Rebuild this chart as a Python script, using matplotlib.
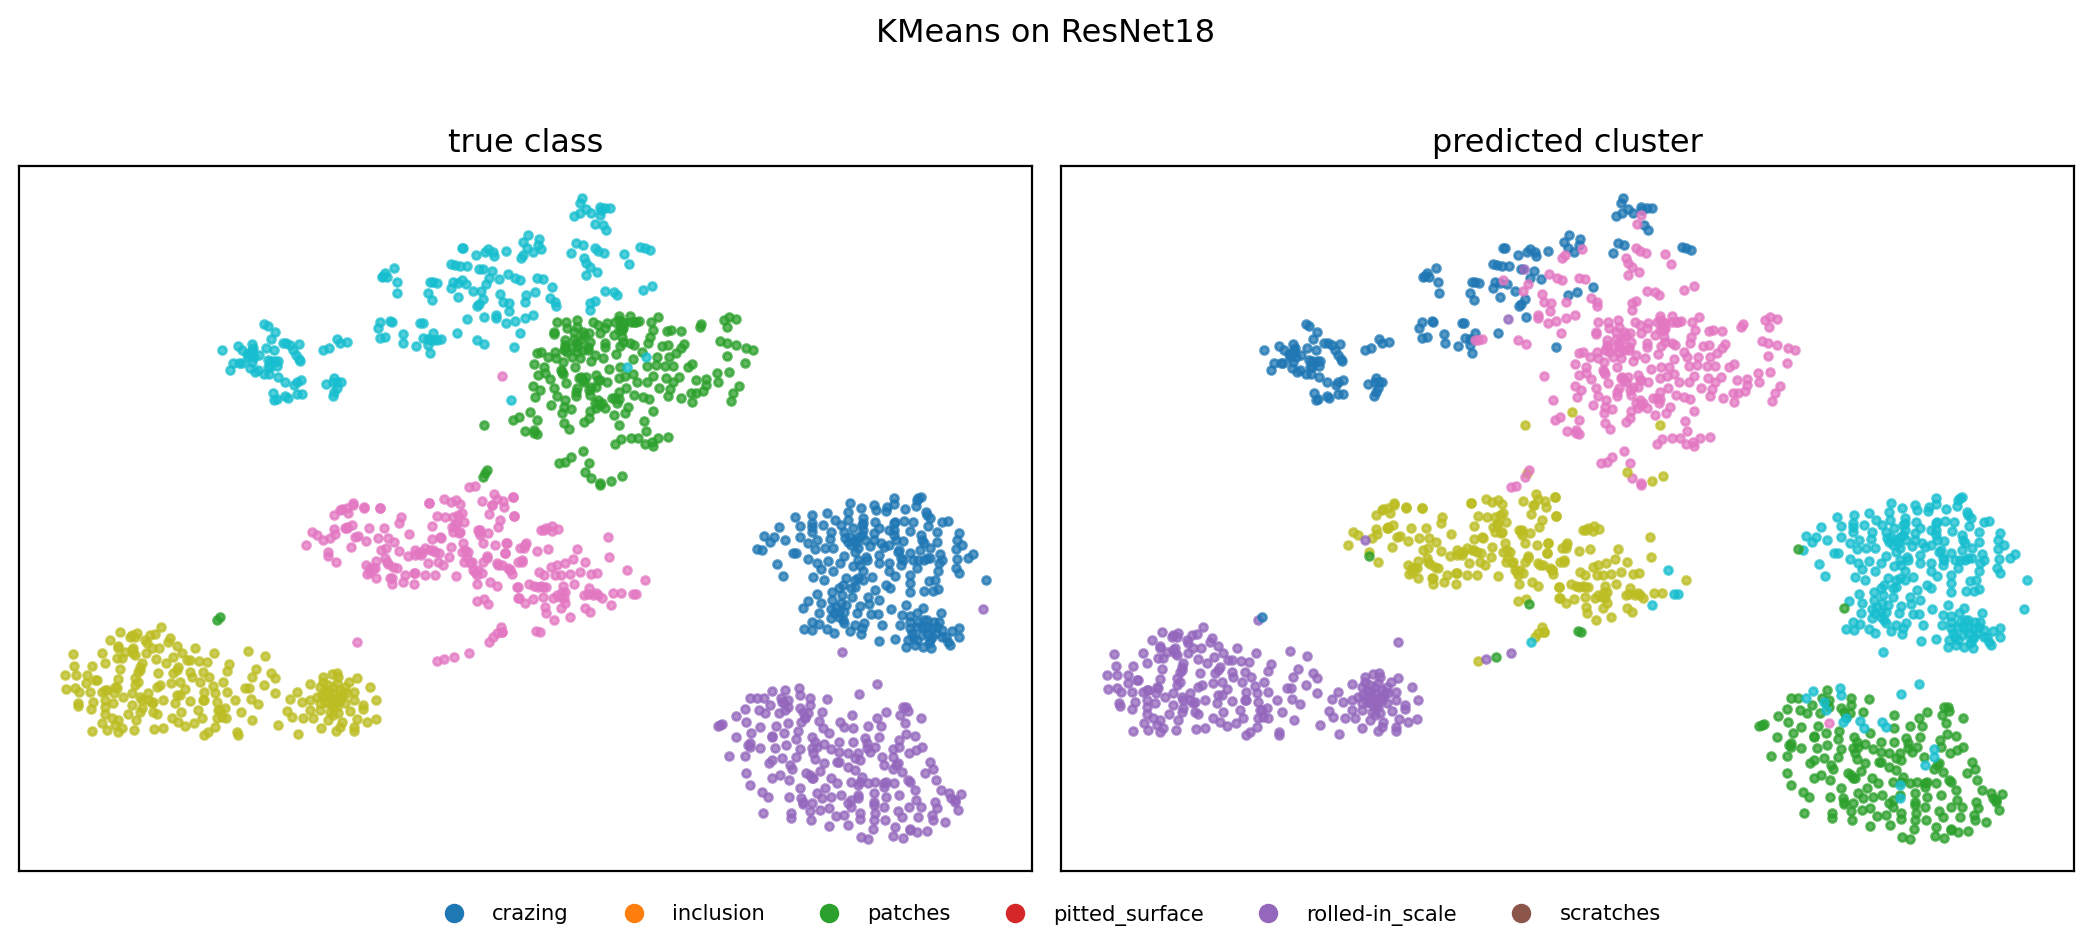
import matplotlib
matplotlib.use('Agg')
import matplotlib.pyplot as plt
from matplotlib.lines import Line2D

# tab10 colour index per cluster
BLUE, GREEN, PURPLE, PINK, OLIVE, CYAN = 'tab:blue', 'tab:green', 'tab:purple', 'tab:pink', 'tab:olive', 'tab:cyan'

class_names = ['crazing', 'inclusion', 'patches', 'pitted_surface', 'rolled-in_scale', 'scratches']
legend_colors = ['tab:blue', 'tab:orange', 'tab:green', 'tab:red', 'tab:purple', 'tab:brown']

# points, each list in its own reading frame (see FRAMES)
cyan_a = [(666,600),(689,660),(698,638),(713,588),(727,600),(742,612),(755,582),(757,600),(762,620),(778,615),(718,640),(725,640),(750,655),(765,665),(775,660),(755,635),(797,593),(813,568),(823,601),(793,522),(803,527),(826,546),(848,580),(858,578),(870,585),(896,582),(880,600),(888,615),(900,633),(897,628),(803,630),(812,632),(835,632),(825,632),(832,647),(805,650),(808,672),(792,672),(833,682),(855,695),(882,706),(890,695),(904,689),(818,728),(822,750),(830,748),(855,738),(863,743),(890,733),(905,732),(978,702),(1002,685),(1000,695),(1022,696),(1010,715),(1003,725),(998,739),(1012,697),(970,599),(988,595),(1012,567),(1020,578),(1042,577),
          (1133,533),(1140,516),(1170,513),(1175,517),(1140,565),(1155,560),(1208,553),(1210,580),(1248,587),(1260,519),(1268,519),(1270,565),(1285,567),(1299,548),(1285,585),(1291,608),(1370,549),(1453,502),(1432,468),(1437,462),(1450,448),(1374,440),(1420,423),(1466,384),(1497,386),(1477,363),(1437,357),(1354,342),(1365,346),(1381,349),(1402,349),(1353,413),(1360,397),(1397,401),(1375,398),(1285,430),(1296,450),(1290,396),(1300,397),(1312,400),(1145,381),(1155,370),(1162,380),(1183,354),(1190,397),(1191,430),(1390,293),(1428,316),(1455,306),(1465,298),(1480,305),(1483,318),
          (750,610),(745,620),(755,610),(760,595),(810,650),(1290,567),(1150,378),(1385,295)]
cyan_b = [(237,145),(232,158),(250,178),(233,190),(215,198),(265,188),(290,170),(292,180),(305,175),(320,173),(298,225),(309,241),(66,275),(80,255),(113,268),(110,285),(95,305),(78,295),(18,303),(222,280),(240,285),(207,310),(408,290),(420,295),(435,300),(150,410),(102,425),(76,435),(42,590)]
cyan_pink_a = [(1300,570),(1310,570),(1322,567),(1385,390),(1443,422),(1458,402),(1430,569),(1453,583),(1488,495),(1488,505)]
cyan_pink_b = [(290,195),(277,222),(68,315),(60,325),(118,298),(275,295),(285,303),(303,310),(245,325),(250,340),(262,352),(250,375),(282,366),(360,313),(375,343),(442,408),(415,420),(305,422),(330,427),(340,435),(262,480),(262,458),(275,452),(108,383),(125,387),(23,372),(45,385),(58,390),(0,433),(8,457),(27,458),(25,484),(72,457),(145,445),(160,457),(162,467),(18,520),(43,512),(72,503),(97,495),(57,549),(370,651),(423,622),(33,750)]
cyan_purple_a = [(1400,506),(1448,358)]

green_b = [(165,517),(193,517),(195,535),(158,545),(158,553),(223,510),(225,530),(270,515),(285,525),(310,520),(335,517),(345,498),(353,515),(378,498),(405,513),(390,515),(458,500),(438,515),(445,540),(435,560),(430,578),(485,542),(497,540),(525,543),(585,522),(580,530),(650,510),(665,500),(685,507),(660,532),(640,573),(658,580),(685,585),(715,593),(736,599),(658,619),(712,638),(665,667),(630,670),(633,695),(693,708),(678,728),(670,752),(558,642),(545,652),(598,688),(568,690),(597,705),(590,722),(570,728),(555,728),(527,745),(558,755),(520,680),(483,685),(503,695),(495,717),(462,713),(488,738),
           (533,583),(525,595),(510,610),(490,620),(455,620),(470,587),(487,586),(480,647),(503,648),(452,645),(428,648),(413,606),(385,628),(388,585),(348,587),(337,613),(305,580),(300,625),(265,633),(275,615),(255,590),(190,570),(190,595),(195,605),(225,605),(232,625),(208,620),(160,605),(163,625),(140,622),(108,608),(120,607),(98,641),(182,637),(128,650),(130,668),(110,675),(145,687),(178,660),(183,673),(192,698),(218,652),(317,658),(348,652),(443,677),(427,697),(398,697),(385,672),(363,678),(345,685),(367,715),(345,725),(390,735),(415,740),(432,747),(340,760),(372,770),(362,790),(330,795),(417,813),(423,842),(443,782),
           (235,682),(250,680),(280,675),(290,690),(310,695),(280,712),(258,720),(260,735),(225,715),(220,738),(158,715),(165,738),(97,708),(115,720),(102,740),(148,765),(188,750),(185,770),(205,778),(180,790),(55,802),(38,810),(108,810),(73,842),(100,840),(108,852),(185,820),(200,838),(245,815),(258,805),(260,782),(285,750),(280,775),(305,775),(325,745),(345,748),
           (335,883),(350,868),(380,863),(402,865),(420,882),(443,888),(440,875),(460,865),(488,860),(240,903),(205,922),(190,935),(172,938),(258,940),(263,985),(290,1000),(290,1005),
           (240,545),(258,550),(290,550),(305,535),(330,555),(358,535),(355,560),(358,575),(378,580),(215,545),(215,567),(235,570),(260,575),(305,590),(240,600),
           (230,685),(245,695),(240,690),(290,765),(295,760),(345,510),(350,530),(360,520),(190,585),(225,590),(180,665),(185,600),(245,555),(255,600),(335,745),(100,850),(285,690),(265,710),(275,760),(220,725),(225,575),(210,590),(355,540),(345,540),(380,515),(395,515)]
green_olive_b = [(345,825),(247,965),(322,992),(353,977),(88,785)]
green_olive_a = [(1451,825),(1455,970)]
green_pink_a = [(1450,980),(1462,960)]
green_purple_c = [(650,360)]
green_blue_c = [(660,352)]

pink_a = [(1058,1060),(1092,1072),(1140,1075),(1288,1060),(1332,1048),(1352,1055),(1368,1050),(1380,1062),(1445,1052),(1482,1032),(1490,1048),(1510,1052),(1540,1040),(1475,1065)]
pink_pink_a = [(1408,1012),(1424,1007),(1507,679)]
pink_c = [(1020,30),(1003,45),(1045,40),(1058,15),(1092,23),(1140,25),(1288,10),(1035,85),(1055,75),(1003,88),(1005,103),(918,134),(935,97),(950,105),(990,115),(1052,140),(1065,110),(1075,107),(1098,122),(1107,83),(1152,85),(1133,115),(1198,70),(1202,50),(1228,103),(983,155),(1008,187),(1143,150),(1158,145),(1163,113),(1183,125),(1197,153),(1225,167),(1245,150),(1262,165),(1275,145),(1298,150),(1318,158),(1296,118),(1323,115),(1296,77),(1310,47),(1335,52),(1360,50),(1385,40),(1355,80),(1392,67),(1360,95),(1378,100),(1352,142),(1348,172),(1390,130),(1385,155),(1405,155),(1393,185),(1415,185),(1440,90),(1465,98),(1433,90),(1500,60),(1493,80),(1467,42),(1513,20),(1477,15),(1543,47),(1450,128),(1485,135),(1520,130),(1515,158),(1460,168),(1450,185),(1495,195),(1530,210),(1555,185),(1560,143),(1098,195),(1128,182),(1155,175),(1165,192),(1190,205),(1110,215),(1128,233),(1102,222),(1170,233),(1175,252),(1208,245),(1215,225),(1242,218),(1242,252),(1275,225),(1305,225),(1368,228),(1283,188),(1315,185),(1330,195),(1430,225),(1420,210),(1445,220),(1432,253),(1470,245),(1490,258),(1535,222),(1552,260),(1553,293),(1430,303),(1453,297),(1310,483),(1480,410),(1490,400),(1502,380),(1507,395),
          (1025,28),(1040,85),(1110,205),(1118,205),(1125,205),(1160,185),(1180,200),(1175,235),(1255,160),(1290,150),(1305,155),(1365,75),(1380,95),(1395,150),(1400,175),(1410,190),(1435,210),(1425,215),(1440,105),(1437,95),(1460,175),(1490,190),(1505,195),(1525,205),(1245,220),(1370,70),(1375,45),(1040,25),(1040,80),(1320,110),(1245,165),(1265,155)]
pink_purple_c = [(970,120),(1070,425),(1333,478),(1407,460)]
pink_green_c = [(983,167),(1463,312),(1363,470)]
pink_cyan_c = [(1468,425)]
pink_d = [(38,50),(42,107),(120,150),(135,145),(152,138),(168,146),(150,152),(75,190),(70,205),(108,213),(140,208),(223,208),(315,172),(317,231),(247,245),(212,238),(65,245),(188,250),(165,255),(148,262),(232,275),(112,277),(127,285),(160,285),(178,285),(203,283),(265,283),(283,280),(421,300),(215,313),(85,313),(110,322),(135,320),(52,320),(183,318),(190,335),(55,355),(72,368),(95,358),(125,352),(155,355),(175,350),(190,368),(130,380),(133,400),(178,385),(245,345),(258,325),(285,345),(295,355),(327,338),(350,340),(248,383),(262,395),(203,412),(158,420),(7,455),(30,270),(18,190),(15,218),
          (100,318),(120,318),(125,322),(165,345),(180,335),(185,355),(255,342),(270,345),(280,340),(65,240),(72,195),(128,150)]
pink_cyan_d = [(368,270),(385,342),(395,342),(322,375)]
pink_green_d = [(105,453),(115,457)]

blue_d = [(760,210),(768,167),(785,185),(797,170),(811,141),(828,181),(858,112),(870,137),(870,170),(850,218),(860,218),(805,252),(823,288),(895,188),(895,237),(920,250),(932,268),(922,180),(915,208),(943,205),(968,204),(952,242),(968,273),(910,291),(940,301),(907,105),(905,128),(905,155),(938,136),(950,98),(972,120),(960,155),(958,178),(990,135),(1015,68),(1010,95),(1012,120),(1025,145),(1003,175),(1035,190),(1030,215),(1000,228),(987,248),(1025,257),(1048,85),(1055,115),(1055,150),(1050,165),(1085,75),(1092,90),(1088,125),(1100,145),(1085,180),(1075,198),(1105,190),(1100,225),(1063,232),(1100,250),(1055,272),(1122,92),(1145,55),(1145,72),(1176,86),(1148,125),(1130,150),(1145,165),(1172,122),(1198,125),(1192,152),(1170,182),(1155,215),(1130,250),(1165,255),(1190,218),(1215,55),(1222,52),(1207,78),(1237,95),(1240,105),(1248,115),(1243,138),(1222,165),(1230,188),(1220,210),(1250,205),(1215,240),(1240,235),(1278,222),(1285,240),(1270,155),(1270,185),(1285,125),(1300,122),(1332,158),(1327,180),(1343,195),(1325,207),(1328,238),(1360,235),(1375,222),(1323,265),(1332,278),(1272,272),(1275,250),(1210,265),(1190,285),(1190,310),(1190,335),(1245,302),(1262,300),(1232,333),(1257,332),(1272,328),(1130,272),(1148,288),(1120,315),(1132,325),(1080,292),(1055,300),(1030,300),(1005,295),(995,315),(1030,320),(1090,330),(985,325),(965,335),(1022,350),(1070,350),(1100,360),(922,343),(893,363),(932,368),(965,360),(993,345),(1005,375),(1045,378),(1072,372),(1135,388),(1180,376),(1228,384),(1280,400),(1167,405),(1190,408),(1212,398),(927,400),(960,388),(985,395),(1037,400),(1078,403),(1097,402),(960,415),(1000,430),(905,425),(925,433),(883,446),(907,450),(950,446),(970,458),(1015,453),(1030,435),(1058,430),(1050,445),(1047,462),(1108,435),(1163,436),(1190,425),(1210,440),(1230,420),(1260,425),(1102,483),(1146,477),(1185,480),(1180,500),(1205,495),(1228,502),(1253,503),(1240,460),(1265,460),(1225,465),(1250,480),(1285,450),(1312,452),(1333,445),(1332,472),(1300,485),(1307,495),(1285,470),(1190,445),(1200,470),(1411,301),
          (1015,170),(1030,180),(1020,195),(1040,205),(1050,135),(1055,130),(1060,180),(1040,170),(1000,155),(1010,185),(905,140),(1145,150),(1150,180),(1160,210),(1170,240),(1115,200),(1130,195),(1085,160),(1230,240),(1200,240),(1250,235),(1225,180),(1040,295),(1020,325),(975,380),(990,370),(985,410),(995,420),(1000,395),(970,400),(1225,440),(1240,445),(1255,445),(1270,440),(1215,425),(1255,470),(1245,490),(1210,480),(1275,425),(1295,470),(1240,420),(1195,460),(1145,130),(1125,80),(1210,60),(1165,235),(1065,240),(1045,255),(1040,240)]
blue_green_d = [(745,207),(880,383)]

purple_d = [(632,738),(645,733),(686,708),(685,770),(666,828),(712,827),(720,795),(725,790),(714,878),(725,915),(712,688),(715,725),(725,655),(745,655),(752,690),(770,698),(785,675),(828,630),(900,655),(950,658),(835,660),(810,700),(870,685),(900,675),(895,700),(935,695),(802,737),(755,740),(730,760),(790,768),(825,760),(865,752),(860,778),(907,770),(955,758),(1023,705),(1025,745),(1070,738),(1095,715),(1120,697),(1105,738),(1170,682),(1185,692),(1163,705),(1224,714),(1175,730),(1178,762),(1205,767),(1158,780),(1100,772),(1060,775),(1025,785),(985,787),(940,792),(920,800),(962,808),(755,803),(800,805),(830,795),(870,807),(910,820),(1065,805),(1090,800),(1160,800),(1225,800),(1208,810),(1187,820),(780,848),(790,840),(820,835),(842,855),(848,868),(860,830),(915,838),(940,848),(928,872),(985,815),(1040,820),(980,845),(1010,860),(1045,840),(1030,870),(1110,830),(1140,868),(1155,850),(1167,875),(1250,845),(1258,868),(1235,880),(790,895),(812,885),(838,900),(890,880),(905,893),(960,893),(978,908),(1050,890),(870,925),(920,938),(945,925),(962,950),(990,945),(1020,905),(1070,910),(1115,910),(1145,910),(1185,900),(1205,930),(1265,900),(1280,930),(1305,940),(1338,943),(760,937),(778,950),(838,950),(875,955),(905,970),(880,972),(935,955),(1010,970),(1085,940),(1120,950),(1160,945),(1085,975),(1115,980),(1208,960),(1263,965),(1320,960),(1330,990),(1268,985),(763,998),(845,998),(845,1015),(900,993),(903,1020),(930,990),(955,985),(975,1008),(1000,1005),(1020,980),(1045,1000),(1045,1018),(1088,1000),(1085,1020),(1118,1020),(1155,992),(1167,1010),(1188,982),(1222,980),(1215,1010),(1255,1005),(1258,1020),(1292,1025),(955,1037),(1012,1035),(1083,1047),(1147,1042),(1190,1048),(1210,1055),(1240,1052),(1048,1072),(1070,1077),(1142,1068),(1170,1073),
            (825,670),(815,655),(835,680),(885,710),(880,695),(905,805),(915,785),(1065,790),(1075,815),(985,845),(1010,820),(1045,905),(1115,920),(1040,945),(1085,965),(1320,965),(1310,955),(1020,960),(1150,855),(1190,905),(1190,1050),(900,885),(910,895),(725,800),(790,770),(1030,835),(1090,905),(1120,905),(640,735),(880,965),(1180,680)]
purple_cyan_d = [(789,632),(1095,613),(1043,643),(868,625),(870,645),(767,655),(820,665),(827,690),(885,715),(875,725),(925,722),(938,745),(988,725),(1000,742),(1140,808),(1140,830),(1115,855),(1040,915),(1040,955),(1402,388),(993,515)]
purple_pink_d = [(835,730)]

olive_c = [(218,463),(222,497),(195,525),(227,525),(260,525),(198,566),(225,565),(237,575),(233,610),(235,618),(275,497),(305,460),(315,488),(350,475),(365,475),(330,420),(360,395),(355,437),(375,455),(395,405),(410,400),(435,420),(450,405),(465,403),(483,380),(510,413),(505,425),(530,437),(478,443),(455,445),(438,460),(400,460),(468,478),(425,490),(420,510),(360,507),(355,537),(345,560),(290,540),(258,550),(270,575),(315,570),(305,575),(343,580),(370,590),(395,580),(405,555),(415,545),(280,607),(272,628),(315,600),(340,608),(315,620),(315,642),(335,655),(355,660),(307,670),(320,690),(345,675),(365,685),(355,697),(275,692),(383,643),(395,615),(425,600),(445,580),(470,560),(475,520),(497,490),(518,470),(545,460),(585,443),(570,480),(597,483),(622,487),(642,460),(530,510),(520,520),(570,515),(610,515),(628,530),(600,545),(640,557),(540,545),(513,550),(555,567),(530,585),(525,610),(490,600),(455,610),(460,635),(470,642),(425,625),(420,635),(408,660),(403,690),(462,687),(490,685),(515,655),(535,665),(543,635),(570,602),(595,630),(605,655),(582,670),(555,678),(612,575),(612,600),(650,605),(645,580),(680,577),(668,547),(706,600),(660,630),(675,625),(650,655),(678,655),(645,680),(612,705),(625,697),(712,695),(713,705),(722,635),(757,660),(775,612),(752,597),(735,565),(748,565),(680,512),(688,492),(745,452),(795,467),(768,507),(755,530),(792,555),(825,580),(813,518),(825,535),(870,598),(862,633),(875,652),(835,675),(893,703),(890,575),(905,605),(910,655),(940,655),(930,552),(962,683),(970,530),(995,523),(1012,520),(1048,545),(1070,535),(1110,562),(1063,575),(1128,600),(1062,600),(1090,615),(1090,628),(1050,632),(1127,657),(1100,665),(1072,657),(1025,665),(1020,682),(1008,692),(1063,680),(1063,692),(960,560),(985,555),(1010,550),(1035,560),(950,590),(975,590),(1000,580),(1025,590),(930,600),(960,630),(985,610),(1010,620),(1035,610),(930,630),(985,660),(1000,645),(975,570),(1005,600),(960,610),(990,590),(1020,570),(1040,580),
           (985,575),(995,600),(1015,590),(1005,610),(975,605),(1000,560),(965,585),(1020,600),(1000,625),(990,635),(1015,640),(970,545),(1015,530),(1030,575),(395,450),(405,465),(400,445),(355,445),(285,540),(420,500),(415,515),(420,590),(445,600),(560,480),(575,530),(535,500),(540,585),(390,410),(405,410),(440,430),(460,605),(350,565),(320,570),(405,535),(480,555),(610,600),(655,630),(665,650)]

# reading frames: x origin, y origin, x scale, y scale
FRAMES = {'a': (0, 150, 3.0, 3.0), 'b': (500, 150, 2.904, 3.0),
          'c': (0, 500, 3.0, 3.0), 'd': (500, 480, 2.904, 3.0)}

# (points, frame, true class colour, predicted cluster colour)
GROUPS = [
    (cyan_a, 'a', CYAN, BLUE), (cyan_b, 'b', CYAN, BLUE),
    (green_b, 'b', GREEN, PINK),
    (pink_a, 'a', PINK, OLIVE), (pink_c, 'c', PINK, OLIVE), (pink_d, 'd', PINK, OLIVE),
    (blue_d, 'd', BLUE, CYAN),
    (purple_d, 'd', PURPLE, GREEN),
    (olive_c, 'c', OLIVE, PURPLE),
    (cyan_pink_a, 'a', CYAN, PINK), (cyan_pink_b, 'b', CYAN, PINK), (cyan_purple_a, 'a', CYAN, PURPLE),
    (green_olive_b, 'b', GREEN, OLIVE), (green_olive_a, 'a', GREEN, OLIVE), (green_pink_a, 'a', GREEN, PINK),
    (green_purple_c, 'c', GREEN, PURPLE), (green_blue_c, 'c', GREEN, BLUE),
    (pink_pink_a, 'a', PINK, PINK), (pink_purple_c, 'c', PINK, PURPLE), (pink_green_c, 'c', PINK, GREEN),
    (pink_cyan_c, 'c', PINK, CYAN), (pink_cyan_d, 'd', PINK, CYAN), (pink_green_d, 'd', PINK, GREEN),
    (blue_green_d, 'd', BLUE, GREEN),
    (purple_cyan_d, 'd', PURPLE, CYAN), (purple_pink_d, 'd', PURPLE, PINK),
]

W, H = 2092, 952
fig = plt.figure(figsize=(W / 200, H / 200), dpi=200)


def panel(x0, x1, title):
    ax = fig.add_axes([x0 / W, 1 - 870.7 / H, (x1 - x0) / W, (870.7 - 165.7) / H])
    ax.set_xlim(19, 1032.3)
    ax.set_ylim(870.7, 165.7)
    ax.set_xticks([])
    ax.set_yticks([])
    ax.set_title(title, fontsize=11.5, pad=5)
    return ax


ax_true = panel(19, 1032.3, 'true class')
ax_pred = panel(1060.7, 2073.7, 'predicted cluster')

for pts, frame, true_c, pred_c in GROUPS:
    ox, oy, kx, ky = FRAMES[frame]
    xs = [ox + p[0] / kx for p in pts]
    ys = [oy + p[1] / ky for p in pts]
    ax_true.scatter(xs, ys, s=8, linewidths=1, color=true_c, alpha=0.75)
    ax_pred.scatter(xs, ys, s=8, linewidths=1, color=pred_c, alpha=0.75)

fig.suptitle('KMeans on ResNet18', fontsize=11.5, y=1 - 34 / H, va='center')

handles = [Line2D([], [], marker='o', linestyle='none', color=c, markersize=6) for c in legend_colors]
fig.legend(handles, class_names, loc='center', bbox_to_anchor=(1047 / W, 1 - 915 / H),
           ncol=6, frameon=False, fontsize=7.6, columnspacing=2.06)

fig.savefig('out.png', dpi=200)
